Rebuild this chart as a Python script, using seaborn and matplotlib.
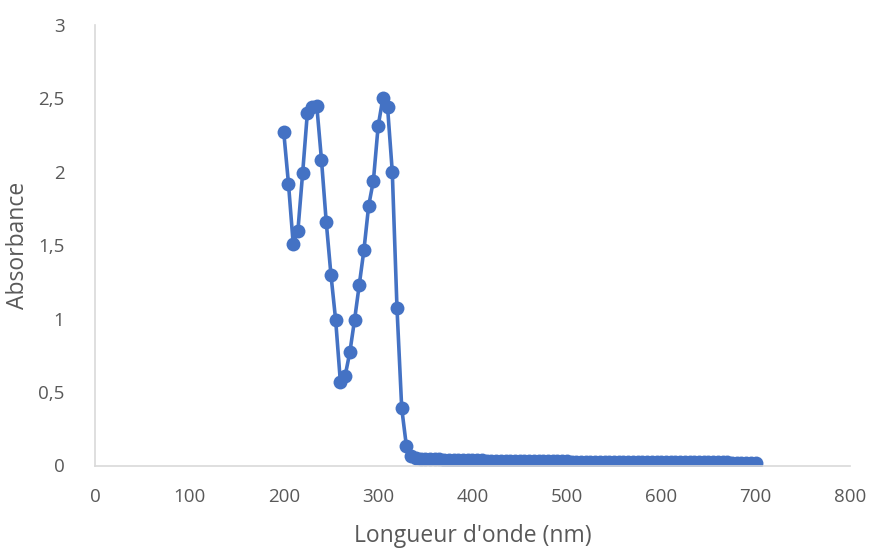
import matplotlib
matplotlib.use("Agg")
import matplotlib.pyplot as plt
import seaborn as sns
import pandas as pd

wavelength = list(range(200, 705, 5))
abs_peak = [2.27, 1.92, 1.51, 1.60, 1.99, 2.40, 2.44, 2.45, 2.08, 1.66,
            1.30, 0.99, 0.57, 0.61, 0.77, 0.99, 1.23, 1.47, 1.77, 1.94,
            2.31, 2.50, 2.44, 2.00, 1.07, 0.39, 0.13, 0.065]
abs_tail = [0.052, 0.047, 0.045, 0.043, 0.042, 0.041, 0.040, 0.039, 0.038, 0.038,
            0.037, 0.036, 0.036, 0.035, 0.035, 0.034, 0.034, 0.033, 0.033, 0.032,
            0.032, 0.031, 0.031, 0.031, 0.030, 0.030, 0.030, 0.029, 0.029, 0.029,
            0.028, 0.028, 0.028, 0.027, 0.027, 0.027, 0.027, 0.026, 0.026, 0.026,
            0.026, 0.025, 0.025, 0.025, 0.025, 0.024, 0.024, 0.024, 0.024, 0.024,
            0.023, 0.023, 0.023, 0.023, 0.023, 0.022, 0.022, 0.022, 0.022, 0.022,
            0.022, 0.021, 0.021, 0.021, 0.021, 0.021, 0.021, 0.020, 0.020, 0.020,
            0.020, 0.020, 0.020]
absorbance = abs_peak + abs_tail

x_ticks = [0, 100, 200, 300, 400, 500, 600, 700, 800]
y_ticks = [0, 0.5, 1, 1.5, 2, 2.5, 3]
y_ticklabels = ["0", "0,5", "1", "1,5", "2", "2,5", "3"]

df = pd.DataFrame({"wl": wavelength, "A": absorbance})

sns.set_style("white")
plt.rcParams['font.family'] = ['Open Sans', 'DejaVu Sans']

fig = plt.figure(figsize=(8.7, 5.5), dpi=100)
ax = fig.add_axes([95/870, 1-465.5/550, 755/870, 440.5/550])

sns.lineplot(data=df, x="wl", y="A", ax=ax, color="#4472C4", linewidth=2.6,
             marker="o", markersize=10, markeredgewidth=0, sort=False)

ax.set_xlim(0, 800)
ax.set_ylim(0, 3)
ax.set_xticks(x_ticks)
ax.set_xticklabels([str(v) for v in x_ticks])
ax.set_yticks(y_ticks)
ax.set_yticklabels(y_ticklabels)
ax.tick_params(axis="both", length=0, labelsize=13.5, labelcolor="#595959")
ax.tick_params(axis="x", pad=16)
ax.tick_params(axis="y", pad=22)
ax.set_xlabel("Longueur d'onde (nm)", fontsize=16.5, color="#595959", labelpad=13)
ax.set_ylabel("Absorbance", fontsize=16.5, color="#595959", labelpad=6)

for s in ["top", "right"]:
    ax.spines[s].set_visible(False)
for s in ["left", "bottom"]:
    ax.spines[s].set_color("#d9d9d9")
    ax.spines[s].set_linewidth(1.2)
ax.grid(False)

fig.savefig("out.png", dpi=100)
